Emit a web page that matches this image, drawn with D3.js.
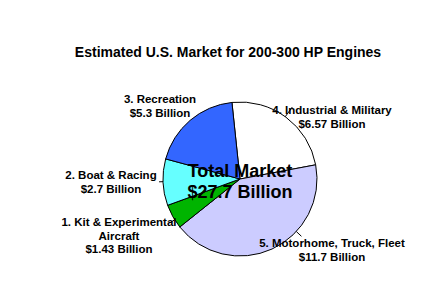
<!DOCTYPE html>
<html>
<head>
<meta charset="utf-8">
<script src="https://cdn.jsdelivr.net/npm/d3@7"></script>
<style>
  body { margin: 0; background: #fff; }
  svg text { font-family: "Liberation Sans", Arial, sans-serif; font-weight: bold; fill: #000; }
</style>
</head>
<body>
<svg id="chart" width="422" height="287"></svg>
<script>
// data, in drawing order (clockwise from top)
const categories = ['4. Industrial & Military', '5. Motorhome, Truck, Fleet', '1. Kit & Experimental|Aircraft', '2. Boat & Racing', '3. Recreation'];
const values = [6.57, 11.7, 1.43, 2.7, 5.3];
const valueLabels = ['$6.57 Billion', '$11.7 Billion', '$1.43 Billion', '$2.7 Billion', '$5.3 Billion'];
const totalLabel = ['Total Market', '$27.7 Billion'];
const title = 'Estimated U.S. Market for 200-300 HP Engines';

// layout
const colors = ['#ffffff', '#ccccff', '#00b400', '#66ffff', '#3366ff'];
const cx = 240, cy = 179, radius = 77;
// label anchors (centre x, first baseline y) + leader line: edge angle (deg, screen) and length
const labelPos = [
    { x: 332, y: 114, lead: -54, len: 12 },
    { x: 332, y: 247, lead: 43, len: 7 },
    { x: 119, y: 226, lead: 148, len: 6 },
    { x: 111, y: 179, lead: 178, len: 4 },
    { x: 160, y: 103, lead: null, len: 0 }
];

const svg = d3.select('#chart');

svg.append('text')
    .attr('x', 228)
    .attr('y', 57)
    .attr('text-anchor', 'middle')
    .style('font-size', '14px')
    .text(title);

const pie = d3.pie()
    .sort(null)
    .startAngle(-6 * Math.PI / 180)
    .endAngle(354 * Math.PI / 180);

const arc = d3.arc().innerRadius(0).outerRadius(radius);

const g = svg.append('g').attr('transform', `translate(${cx},${cy})`);

g.selectAll('path')
    .data(pie(values))
    .enter()
    .append('path')
    .attr('d', arc)
    .style('fill', (d, i) => colors[i])
    .style('stroke', '#000')
    .style('stroke-width', 1);

// leader lines
labelPos.forEach(p => {
    if (p.lead === null) return;
    const a = p.lead * Math.PI / 180;
    svg.append('line')
        .attr('x1', cx + radius * Math.cos(a))
        .attr('y1', cy + radius * Math.sin(a))
        .attr('x2', cx + (radius + p.len) * Math.cos(a))
        .attr('y2', cy + (radius + p.len) * Math.sin(a))
        .style('stroke', '#000')
        .style('stroke-width', 1);
});

// slice labels
categories.forEach((c, i) => {
    const lines = c.split('|').concat([valueLabels[i]]);
    const t = svg.append('text')
        .attr('text-anchor', 'middle')
        .style('font-size', '11.5px');
    lines.forEach((l, j) => {
        t.append('tspan')
            .attr('x', labelPos[i].x)
            .attr('y', labelPos[i].y + j * 13.5)
            .text(l);
    });
});

// centre label
const tot = svg.append('text')
    .attr('text-anchor', 'middle')
    .style('font-size', '18px');
totalLabel.forEach((l, j) => {
    tot.append('tspan')
        .attr('x', cx)
        .attr('y', 177 + j * 20.5)
        .text(l);
});
</script>
</body>
</html>
